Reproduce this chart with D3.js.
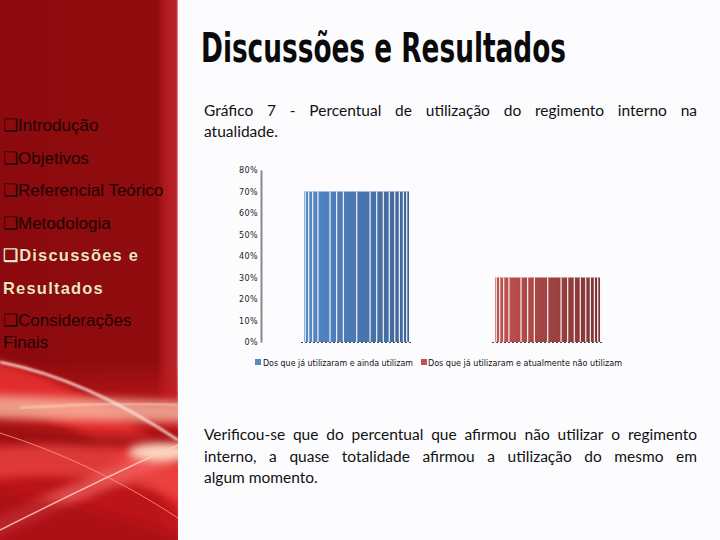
<!DOCTYPE html>
<html><head><meta charset="utf-8">
<script src="https://cdn.jsdelivr.net/npm/d3@7"></script>
<style>html,body{margin:0;padding:0;background:#fcfcfe;} svg{display:block}</style>
</head><body>
<script>
// ---------- data ----------
const categories = ["Dos que já utilizaram e ainda utilizam", "Dos que já utilizaram e atualmente não utilizam"];
const values = [0.70, 0.30];
const yTicks = [0, 0.1, 0.2, 0.3, 0.4, 0.5, 0.6, 0.7, 0.8];
const titleText = "Discussões e Resultados";
const captionLines = ["Gráfico 7 - Percentual de utilização do regimento interno na", "atualidade."];
const bodyLines = [
  "Verificou-se que do percentual que afirmou não utilizar o regimento",
  "interno, a quase totalidade afirmou a utilização do mesmo em",
  "algum momento."
];
const menuItems = ["Introdução", "Objetivos", "Referencial Teórico", "Metodologia", "Discussões e Resultados", "Considerações Finais"];
const activeItem = "Discussões e Resultados";

// ---------- styles ----------
const W = 720, H = 540;
const colors = [["#5488c8", "#3f6597"], ["#c4524f", "#7e3434"]];
const stripeFr = [0.012, 0.045, 0.083, 0.133, 0.248, 0.311, 0.375, 0.502, 0.629, 0.692, 0.755, 0.812, 0.864, 0.908, 0.946, 0.978];

const svg = d3.select("body").append("svg").attr("width", W).attr("height", H);
const defs = svg.append("defs");

svg.append("rect").attr("width", W).attr("height", H).attr("fill", "#fcfcfe");

// left panel
const pg = defs.append("linearGradient").attr("id", "panel").attr("x1", 0).attr("x2", 1).attr("y1", 0).attr("y2", 0);
pg.append("stop").attr("offset", "0%").attr("stop-color", "#8c0a0d");
pg.append("stop").attr("offset", "88%").attr("stop-color", "#900c0f");
pg.append("stop").attr("offset", "93%").attr("stop-color", "#b01a1e");
pg.append("stop").attr("offset", "99%").attr("stop-color", "#b8232a");
pg.append("stop").attr("offset", "100%").attr("stop-color", "#e9a5a8");
svg.append("rect").attr("x", 0).attr("y", 0).attr("width", 178).attr("height", H).attr("fill", "url(#panel)");

// swooshes
defs.append("clipPath").attr("id", "pclip").append("rect").attr("width", 178).attr("height", H);
const blur = defs.append("filter").attr("id", "blur").attr("x", "-20%").attr("y", "-50%").attr("width", "140%").attr("height", "200%");
blur.append("feGaussianBlur").attr("stdDeviation", 4);
const blur2 = defs.append("filter").attr("id", "blur2");
blur2.append("feGaussianBlur").attr("stdDeviation", 1);
const sw = svg.append("g").attr("clip-path", "url(#pclip)");
const lg = defs.append("linearGradient").attr("id", "low").attr("x1", 0).attr("x2", 0).attr("y1", 0).attr("y2", 1);
lg.append("stop").attr("offset", "0%").attr("stop-color", "#c8181c").attr("stop-opacity", 0);
lg.append("stop").attr("offset", "30%").attr("stop-color", "#c8181c").attr("stop-opacity", 0.8);
lg.append("stop").attr("offset", "100%").attr("stop-color", "#c01518").attr("stop-opacity", 0.9);
sw.append("rect").attr("x", 0).attr("y", 360).attr("width", 178).attr("height", 180).attr("fill", "url(#low)");
sw.append("path").attr("d", "M-10,360 C40,370 110,400 190,470 L190,520 C120,450 50,410 -10,400 Z").attr("fill", "#ec3030").attr("opacity", 0.85).attr("filter", "url(#blur)");
sw.append("path").attr("d", "M-10,420 C50,430 120,440 190,430 L190,445 C120,455 50,450 -10,445 Z").attr("fill", "#8c0a0d").attr("opacity", 0.6).attr("filter", "url(#blur)");
sw.append("path").attr("d", "M-10,395 C50,398 120,398 190,402 L190,422 C120,422 50,420 -10,418 Z").attr("fill", "#f7b9a2").attr("opacity", 0.8).attr("filter", "url(#blur)");
sw.append("path").attr("d", "M-10,448 C60,440 120,445 190,470 L190,500 C120,480 60,470 -10,480 Z").attr("fill", "#ee4a44").attr("opacity", 0.7).attr("filter", "url(#blur)");
sw.append("path").attr("d", "M-10,520 C60,490 120,460 190,440 L190,458 C120,482 60,510 -10,540 Z").attr("fill", "#f06060").attr("opacity", 0.7).attr("filter", "url(#blur)");
sw.append("path").attr("d", "M-10,490 C60,500 120,515 190,540 L190,550 L-10,550 Z").attr("fill", "#a40f12").attr("opacity", 0.6).attr("filter", "url(#blur)");
sw.append("ellipse").attr("cx", 160).attr("cy", 452).attr("rx", 32).attr("ry", 9).attr("fill", "#fff3d8").attr("opacity", 0.85).attr("filter", "url(#blur)");
sw.append("path").attr("d", "M0,362 C50,372 110,395 178,440").attr("fill", "none").attr("stroke", "#ffe8e0").attr("stroke-width", 2.5).attr("opacity", 0.9).attr("filter", "url(#blur2)");
sw.append("path").attr("d", "M0,433 C60,452 120,480 178,518").attr("fill", "none").attr("stroke", "#ff9a8a").attr("stroke-width", 1).attr("opacity", 0.8);
sw.append("path").attr("d", "M0,530 C60,500 120,470 178,445").attr("fill", "none").attr("stroke", "#ffd0c0").attr("stroke-width", 1.4).attr("opacity", 0.85);
sw.append("path").attr("d", "M20,408 C80,404 130,402 178,405").attr("fill", "none").attr("stroke", "#fff0e0").attr("stroke-width", 1.5).attr("opacity", 0.7).attr("filter", "url(#blur2)");

// menu
const menuG = svg.append("g");
let my = 131;
const lh = 32.5;
const lines = [];
menuItems.forEach(item => {
  const active = item === activeItem;
  if (item === "Discussões e Resultados") {
    lines.push({ t: "\u2751Discussões e", a: active });
    lines.push({ t: "Resultados", a: active });
  } else if (item === "Considerações Finais") {
    lines.push({ t: "\u2751Considerações", a: active });
    lines.push({ t: "Finais", a: active, tight: true });
  } else {
    lines.push({ t: "\u2751" + item, a: active });
  }
});
lines.forEach((l) => {
  const yy = l.tight ? my - lh + 22 : my;
  const t = menuG.append("text").attr("x", 3).attr("y", yy)
    .attr("font-family", "'Liberation Sans', Arial, sans-serif")
    .attr("font-size", 17)
    .text(l.t);
  if (l.a) {
    t.attr("font-weight", "bold").attr("font-size", 16.5).attr("fill", "#f6e2c2").attr("letter-spacing", 1.2)
      .attr("stroke", "#3a0000").attr("stroke-width", 0.6).attr("paint-order", "stroke");
  } else {
    t.attr("fill", "#1c0404");
  }
  my = yy + lh;
});

// title
svg.append("text").attr("x", 201).attr("y", 62)
  .attr("font-family", "'Liberation Sans Narrow', 'DejaVu Sans Condensed', sans-serif")
  .attr("font-weight", "bold").attr("font-size", 40)
  .attr("textLength", 365).attr("lengthAdjust", "spacingAndGlyphs")
  .attr("fill", "#0a0a0a").text(titleText);

// justified paragraph helper
function para(linesArr, x0, x1, y0, lhgt, size) {
  const g = svg.append("g").attr("font-family", "Lato, 'Open Sans', sans-serif").attr("font-size", size).attr("fill", "#111");
  linesArr.forEach((line, i) => {
    const yy = y0 + i * lhgt;
    const last = i === linesArr.length - 1;
    const words = line.split(" ");
    if (last) { g.append("text").attr("x", x0).attr("y", yy).text(line); return; }
    const nodes = words.map(w => g.append("text").attr("y", yy).text(w));
    const widths = nodes.map(n => n.node().getComputedTextLength());
    const total = d3.sum(widths);
    const gap = (x1 - x0 - total) / (words.length - 1);
    let xx = x0;
    nodes.forEach((n, k) => { n.attr("x", xx); xx += widths[k] + gap; });
  });
}
para(captionLines, 204, 697, 116, 21, 15.5);
para(bodyLines, 204, 697, 440, 21.5, 15.5);

// chart
const y = d3.scaleLinear().domain([0, 0.8]).range([342, 170]);
const x = d3.scaleBand().domain(categories).range([261, 643]).paddingInner(0.45).paddingOuter(0.225);

const yAxis = svg.append("g").attr("transform", "translate(261,0)")
  .call(d3.axisLeft(y).tickValues(yTicks).tickSize(0).tickPadding(3).tickFormat(d3.format(".0%")));
yAxis.select(".domain").attr("stroke", "#8a8a8a").attr("stroke-width", 2);
yAxis.selectAll("text").attr("font-family", "'DejaVu Sans', sans-serif").attr("font-size", 8).attr("fill", "#222").attr("letter-spacing", 0.4);

categories.forEach((c, i) => {
  const gr = defs.append("linearGradient").attr("id", "bg" + i).attr("x1", 0).attr("x2", 1).attr("y1", 0).attr("y2", 0);
  gr.append("stop").attr("offset", "0%").attr("stop-color", colors[i][0]);
  gr.append("stop").attr("offset", "100%").attr("stop-color", colors[i][1]);
});

const bars = svg.append("g").selectAll("g").data(categories).join("g");
bars.append("rect")
  .attr("x", d => x(d)).attr("width", x.bandwidth())
  .attr("y", (d, i) => y(values[i])).attr("height", (d, i) => y(0) - y(values[i]))
  .attr("fill", (d, i) => `url(#bg${i})`);
bars.each(function (d, i) {
  const g = d3.select(this);
  g.selectAll("line.s").data(stripeFr).join("line").attr("class", "s")
    .attr("x1", f => x(d) + f * x.bandwidth()).attr("x2", f => x(d) + f * x.bandwidth())
    .attr("y1", y(values[i])).attr("y2", y(0))
    .attr("stroke", "#f4f4f8").attr("stroke-width", 1.2);
  g.append("line").attr("x1", x(d) - 3).attr("x2", x(d) + x.bandwidth() + 3)
    .attr("y1", y(0) + 0.5).attr("y2", y(0) + 0.5)
    .attr("stroke", "#444").attr("stroke-width", 1).attr("stroke-dasharray", "2,2");
});

// legend
const legendPos = [[255, 263, 150], [421, 428, 194]];
const leg = svg.append("g");
categories.forEach((c, i) => {
  leg.append("rect").attr("x", legendPos[i][0]).attr("y", 359).attr("width", 6).attr("height", 6).attr("fill", colors[i][0]);
  leg.append("text").attr("x", legendPos[i][1]).attr("y", 365.5)
    .attr("font-family", "'DejaVu Sans', sans-serif").attr("font-size", 8).attr("fill", "#111")
    .attr("textLength", legendPos[i][2]).attr("lengthAdjust", "spacingAndGlyphs").text(c);
});
</script>
</body></html>
